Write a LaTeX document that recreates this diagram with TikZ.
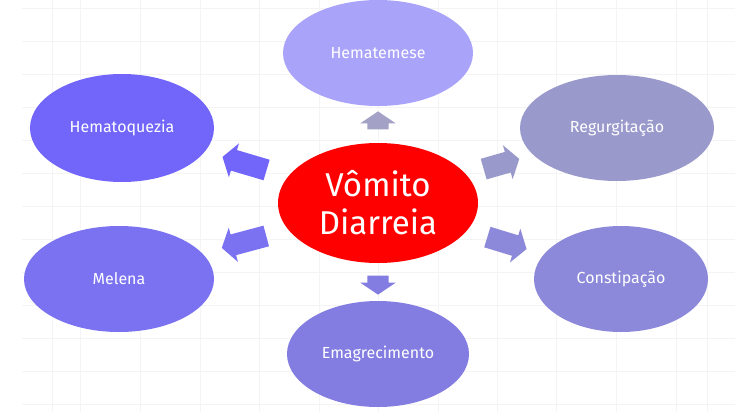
\documentclass[tikz,border=0pt]{standalone}
\usepackage{fontspec}
\setmainfont{Fira Sans}
\usepackage{tikz}
\usetikzlibrary{shapes.geometric,shapes.arrows}
\definecolor{symtop}{HTML}{AAA3FA}
\definecolor{symtl}{HTML}{7266FA}
\definecolor{symtr}{HTML}{9A99CC}
\definecolor{symbl}{HTML}{7A72F0}
\definecolor{symbr}{HTML}{8D89DA}
\definecolor{symbot}{HTML}{837DE2}
\definecolor{ptrtop}{HTML}{A3A1C6}
\definecolor{gridgray}{HTML}{F4F4F4}

\begin{document}
\begin{tikzpicture}[
  x=1pt, y=-1pt,
  font=\fontsize{16}{19}\selectfont,
  blob/.style={ellipse, inner sep=0pt, text=white, minimum width=190pt, minimum height=106pt},
  hub/.style={blob, fill=red, minimum width=200pt, minimum height=120pt, align=center, font=\fontsize{33}{38}\selectfont},
  pointer/.style={single arrow, draw=none, inner sep=0pt, text height=21pt, text depth=0pt,
    single arrow head extend=7pt, single arrow tip angle=112},
]
\useasboundingbox (0,0) rectangle (735,412);
\fill[white] (0,0) rectangle (735,412);

% faint background grid
\foreach \gy in {8,41,...,404} \draw[gridgray, line width=0.7pt] (22,\gy) -- (735,\gy);
\foreach \gx in {52,80,140,200,259,319,378,438,497,556,616,676,707} \draw[gridgray, line width=0.7pt] (\gx,0) -- (\gx,412);

% centre
\node[hub] (core) at (378,203) {Vômito\\Diarreia};

% ring of symptoms
\node[blob, fill=symtop] (hematemese)    at (378,53)  {Hematemese};
\node[blob, fill=symtl, minimum width=184pt, minimum height=108pt] (hematoquezia) at (122,128) {Hematoquezia};
\node[blob, fill=symtr, minimum width=194pt] (regurgitacao)  at (617,128) {Regurgitação};
\node[blob, fill=symbl] (melena)         at (119,279) {Melena};
\node[blob, fill=symbr, minimum width=174pt] (constipacao)   at (621,279) {Constipação};
\node[blob, fill=symbot, minimum width=182pt] (emagrecimento) at (378,354) {Emagrecimento};

% block arrows from the centre outwards
\node[pointer, fill=ptrtop, minimum height=18pt, rotate=90]    (ptop) at (378,124)   {};
\node[pointer, fill=symbot, minimum height=19pt, rotate=-90]   (pbot) at (378,281.5) {};
\node[pointer, fill=symtl, minimum height=46pt, rotate=163.5]  (ptl)  at (248,164.5) {};
\node[pointer, fill=symbl, minimum height=46pt, rotate=195]    (pbl)  at (247.5,241) {};
\node[pointer, fill=symtr, minimum height=37pt, rotate=16]     (ptr)  at (498,165)   {};
\node[pointer, fill=symbr, minimum height=41pt, rotate=-17]    (pbr)  at (503.5,242) {};
\end{tikzpicture}
\end{document}
